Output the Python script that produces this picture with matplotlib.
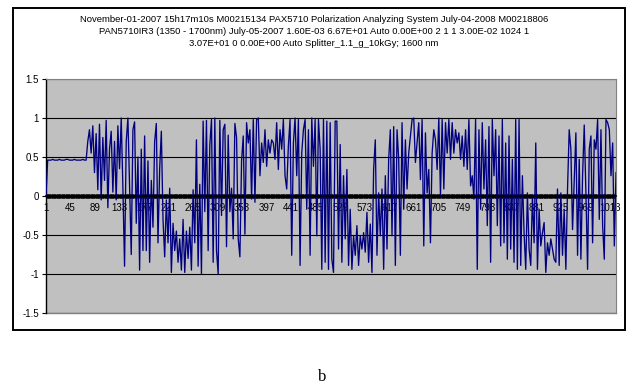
import numpy as np
import matplotlib
matplotlib.use("Agg")
import matplotlib.pyplot as plt
from matplotlib.patches import Rectangle

plt.rcParams["font.family"] = ["Liberation Sans", "DejaVu Sans"]

title_lines = [
    "November-01-2007 15h17m10s M00215134 PAX5710 Polarization Analyzing System July-04-2008 M00218806",
    "PAN5710IR3 (1350 - 1700nm) July-05-2007 1.60E-03 6.67E+01 Auto 0.00E+00 2 1 1 3.00E-02 1024 1",
    "3.07E+01 0 0.00E+00 Auto Splitter_1.1_g_10kGy; 1600 nm",
]
caption = "b"

# sample numbers (every third point of the 1024-point record)
samples = np.arange(1, 1025, 3)

# normalised Stokes parameter at 1600 nm
s_values = [
    0.00, 0.46, 0.46, 0.46, 0.47, 0.46, 0.46, 0.46, 0.47, 0.46,
    0.46, 0.46, 0.47, 0.47, 0.46, 0.46, 0.46, 0.47, 0.46, 0.46,
    0.46, 0.46, 0.47, 0.46, 0.46,
    0.70, 0.85, 0.55, 0.90, 0.30, 0.80, 0.08, 0.92, -0.05, 0.75,
    0.20, 0.97, -0.15, 0.60, 0.83, 0.05, 0.70, -0.05, 0.90, 0.35,
    1.00, 0.10, -0.90, 0.70, 1.00, 0.15, -0.75, 0.85, 0.95, -0.35,
    0.50, -0.95, 0.60, -0.70,
    0.77, -0.70, 0.45, -0.85, 0.20, -0.40, 0.70, 0.93, -0.60, 0.35,
    0.83, -0.30, -0.78, -0.05, -0.60, 0.10, -0.98, -0.35, -0.70, -0.45,
    -0.85, -0.55, -0.95, -0.30, -0.98, -0.45, -0.80, -0.40, -0.95, 0.08,
    -0.60, 0.72, -0.90, 0.15, -1.00, 0.96, -0.20, 0.97, -0.70, 0.65,
    0.98, -0.85, 1.00, -0.70, -1.00, 0.97, -0.25, 0.85, 0.92, -0.65,
    0.78, -0.20, 0.10, -0.55, 0.93, 0.75, -0.55,
    -0.78, 0.45, 0.77, -0.49, 0.94, 0.68, 0.85, -0.04, 0.98, -0.08,
    0.98, 1.00, 0.26, 0.68, 0.43, 0.85, 0.38, 0.72, 0.55, 0.72,
    0.68, 0.47, 0.94, 0.34, 0.85, 0.60, 0.98, 0.26, 0.09, 0.64,
    0.98, -0.76, 0.68, 1.00, 0.26, 0.98, -0.89, 0.55, 0.85, 0.98,
    -0.17, 0.85, -0.76, 1.00, 0.38, 0.98, -0.51, 0.98, 0.60, -0.94,
    0.98, -0.85, 0.96, -0.94, 0.94, -0.81, -0.98, 0.96,
    0.96, -0.68, 0.66, -0.85, 0.26, -0.55, 0.34, -0.89, -0.17, -0.94,
    -0.51, -0.76, -0.38, -0.89, -0.51, -0.68, -0.47, -0.72, -0.21, -0.85,
    -0.36, -0.98, 0.34, 0.72, -0.76, 0.04, -0.51, 0.09, -0.94, 0.26,
    -0.68, 0.47, 0.85, -0.51, 0.89, -0.89, 0.85, 0.47, -0.76, 0.94,
    -0.17, 0.72, 0.09, 0.55, 0.77, 0.98, 1.00, 0.43, 0.68, 0.94,
    0.21, 0.98, -0.64, 0.81, 0.04, 0.34, -0.60,
    0.55, 0.85, 0.72, 0.34, 1.00, 0.00, 0.98, 0.09, 0.94, 0.55,
    0.98, 0.47, 0.94, 0.55, 0.85, 0.68, 0.81, 0.47, 0.77, 0.38,
    0.85, 0.34, 0.98, 0.13, 0.26, -0.04, 0.98, -0.94, 0.85, -0.17,
    0.94, 0.09, 0.72, -0.38, 0.89, -0.85, 0.98, 0.26, 0.85, -0.38,
    0.77, -0.64, 0.98, -0.60, 0.68, -0.81, 0.77, -0.68, 0.47, -0.85,
    0.98, -0.94, 0.98, -0.89, 0.26, -0.47, -0.94, 0.04,
    -0.68, -0.89, 0.00, -0.60, 0.68, -0.94, -0.17, -0.64, -0.47, -0.34,
    -0.98, -0.60, -0.76, -0.55, -0.68, -0.81, -0.85, 0.09, -0.89, 0.04,
    -0.76, -0.17, -0.94, 0.09, 0.85, 0.60, -0.43, 0.21, 0.81, -0.76,
    0.47, -0.81, 0.26, 0.91, 0.04, -0.94, 0.60, 0.77, -0.60, 0.72,
    0.60, 0.98, -0.30, 0.85, -0.38, -0.81, 0.98, 0.94, 0.85, 0.26,
    0.68, -0.64, 0.30,
]

y_ticks = [-1.5, -1, -0.5, 0, 0.5, 1, 1.5]
y_tick_labels = ["-1.5", "-1", "-0.5", "0", "0.5", "1", "1.5"]
x_label_step = 44
n_points = 1024

W, H = 628, 389
fig = plt.figure(figsize=(W / 100, H / 100), dpi=100)

# chart-area frame
fig.patches.append(Rectangle((13 / W, 1 - 330 / H), (625 - 13) / W, (330 - 8) / H,
                             transform=fig.transFigure, fill=False,
                             edgecolor="black", linewidth=1.4))

ax = fig.add_axes([46 / W, 1 - 313 / H, (616 - 46) / W, (313 - 79) / H])
ax.set_facecolor("#C0C0C0")

ax.plot(samples, s_values, color="#000080", linewidth=0.95, zorder=3)

ax.set_xlim(1, n_points)
ax.set_ylim(-1.5, 1.5)

for yv in y_ticks:
    ax.axhline(yv, color="black", linewidth=0.8, zorder=1)

ax.set_yticks(y_ticks)
ax.set_yticklabels(y_tick_labels, fontsize=7)
ax.tick_params(axis="y", direction="out", length=3, width=0.8, pad=2)

# category axis crossing at zero, one tick per sample
ax.spines["bottom"].set_position(("data", 0))
ax.spines["bottom"].set_linewidth(1.2)
ax.spines["bottom"].set_zorder(4)
ax.spines["top"].set_color("#808080")
ax.spines["right"].set_color("#808080")
ax.spines["left"].set_linewidth(1.0)

major = np.arange(1, n_points + 1, x_label_step)
ax.set_xticks(major)
ax.set_xticklabels([str(v) for v in major], fontsize=7)
ax.set_xticks(np.arange(1, n_points + 1), minor=True)
ax.tick_params(axis="x", which="both", direction="inout", length=3.5, width=0.75, pad=3.5)

# bottom border of the plot area
ax.plot([0, 1], [0, 0], transform=ax.transAxes, color="#808080", linewidth=1.0, clip_on=False)

for i, line in enumerate(title_lines):
    fig.text(0.5, 1 - (19 + i * 12) / H, line, ha="center", va="center", fontsize=6.8)

fig.text(322 / W, 1 - 377 / H, caption, ha="center", va="center", fontsize=12,
         family=["Liberation Serif", "DejaVu Serif"])

fig.savefig("out.png", dpi=100)
